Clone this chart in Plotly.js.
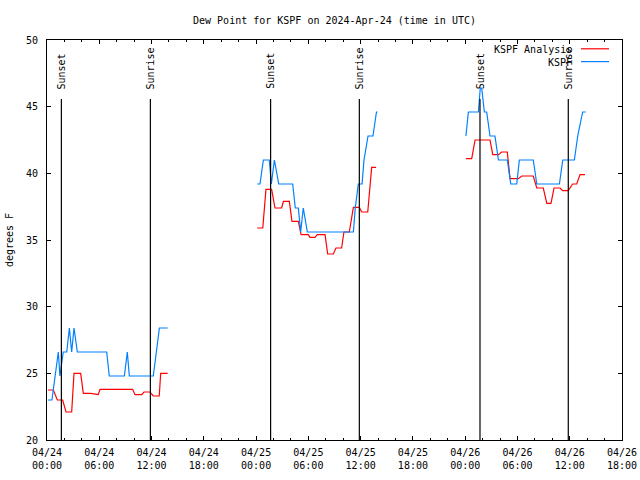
<!DOCTYPE html>
<html>
<head>
<meta charset="utf-8">
<script src="https://cdn.plot.ly/plotly-3.0.1.min.js"></script>
<style>html,body{margin:0;padding:0;background:#fff;}#chart{width:640px;height:480px;}</style>
</head>
<body>
<div id="chart"></div>
<script>
// ---- data ----
const chartTitle = 'Dew Point for KSPF on 2024-Apr-24 (time in UTC)';
const yTitle = 'degrees F';
const seriesNames = ['KSPF Analysis', 'KSPF'];

// KSPF Analysis (red)
const analysisTime = [
  '2024-04-24 00:07','2024-04-24 00:44','2024-04-24 01:11','2024-04-24 01:48','2024-04-24 02:11','2024-04-24 02:50',
  '2024-04-24 03:06','2024-04-24 03:52','2024-04-24 04:10','2024-04-24 05:01','2024-04-24 05:53','2024-04-24 06:05',
  '2024-04-24 09:50','2024-04-24 10:06','2024-04-24 10:52','2024-04-24 11:08','2024-04-24 11:49','2024-04-24 12:12',
  '2024-04-24 12:53','2024-04-24 13:03','2024-04-24 13:51',
  '2024-04-24 19:00',
  '2024-04-25 00:08','2024-04-25 00:46','2024-04-25 01:08','2024-04-25 01:47','2024-04-25 02:10','2024-04-25 02:56',
  '2024-04-25 03:08','2024-04-25 03:49','2024-04-25 04:07','2024-04-25 04:51','2024-04-25 05:10','2024-04-25 06:00',
  '2024-04-25 06:11','2024-04-25 06:46','2024-04-25 07:02','2024-04-25 07:55','2024-04-25 08:13','2024-04-25 08:52',
  '2024-04-25 09:10','2024-04-25 09:49','2024-04-25 10:05','2024-04-25 10:42','2024-04-25 11:10','2024-04-25 11:51',
  '2024-04-25 12:07','2024-04-25 12:49','2024-04-25 13:16','2024-04-25 13:46',
  '2024-04-25 19:00',
  '2024-04-26 00:05','2024-04-26 00:45','2024-04-26 01:08','2024-04-26 02:51','2024-04-26 03:10','2024-04-26 03:49',
  '2024-04-26 04:11','2024-04-26 04:50','2024-04-26 05:09','2024-04-26 06:06','2024-04-26 06:29','2024-04-26 07:49',
  '2024-04-26 08:13','2024-04-26 08:58','2024-04-26 09:22','2024-04-26 09:51','2024-04-26 10:12','2024-04-26 10:53',
  '2024-04-26 11:12','2024-04-26 11:50','2024-04-26 12:20','2024-04-26 12:48','2024-04-26 13:11','2024-04-26 13:45'
];
const analysisDew = [
  23.75,23.75,23.0,23.0,22.1,22.1,
  25.0,25.0,23.5,23.5,23.4,23.8,
  23.8,23.4,23.4,23.6,23.6,23.3,
  23.3,25.0,25.0,
  null,
  35.9,35.9,38.8,38.8,37.4,37.4,
  37.9,37.9,36.4,36.4,35.4,35.4,
  35.2,35.2,35.4,35.4,33.95,33.95,
  34.4,34.4,35.6,35.6,37.45,37.45,
  37.1,37.1,40.45,40.45,
  null,
  41.1,41.1,42.5,42.5,41.4,41.4,
  41.6,41.6,39.6,39.6,39.8,39.8,
  38.9,38.9,37.75,37.75,38.9,38.9,
  38.7,38.7,39.2,39.2,39.9,39.9
];

// KSPF observations (blue)
const obsTime = [
  '2024-04-24 00:07','2024-04-24 00:34','2024-04-24 01:18','2024-04-24 01:29','2024-04-24 01:52','2024-04-24 02:16',
  '2024-04-24 02:34','2024-04-24 02:50','2024-04-24 03:06','2024-04-24 03:29','2024-04-24 06:51','2024-04-24 07:09',
  '2024-04-24 08:53','2024-04-24 09:13','2024-04-24 09:27','2024-04-24 12:12','2024-04-24 12:54','2024-04-24 13:51',
  '2024-04-24 19:00',
  '2024-04-25 00:08','2024-04-25 00:27','2024-04-25 00:50','2024-04-25 01:31','2024-04-25 01:45','2024-04-25 02:06',
  '2024-04-25 02:36','2024-04-25 04:12','2024-04-25 04:30','2024-04-25 04:51','2024-04-25 05:07','2024-04-25 05:25',
  '2024-04-25 05:53','2024-04-25 11:10','2024-04-25 11:23','2024-04-25 11:44','2024-04-25 12:10','2024-04-25 12:23',
  '2024-04-25 12:51','2024-04-25 13:25','2024-04-25 13:49','2024-04-25 13:56',
  '2024-04-25 19:00',
  '2024-04-26 00:05','2024-04-26 00:22','2024-04-26 01:31','2024-04-26 01:44','2024-04-26 01:54','2024-04-26 02:12',
  '2024-04-26 02:28','2024-04-26 02:51','2024-04-26 03:25','2024-04-26 03:49','2024-04-26 04:50','2024-04-26 05:14',
  '2024-04-26 05:55','2024-04-26 06:13','2024-04-26 07:49','2024-04-26 08:13','2024-04-26 10:49','2024-04-26 11:12',
  '2024-04-26 12:32','2024-04-26 12:55','2024-04-26 13:29','2024-04-26 13:50'
];
const obsDew = [
  23.0,23.0,26.6,24.8,26.6,26.6,
  28.4,26.6,28.4,26.6,26.6,24.8,
  24.8,26.6,24.8,24.8,28.4,28.4,
  null,
  39.2,39.2,41.0,41.0,39.2,41.0,
  39.2,39.2,37.4,37.4,35.6,37.4,
  35.6,35.6,37.4,39.2,39.2,41.0,
  42.8,42.8,44.6,44.6,
  null,
  42.8,44.6,44.6,46.4,46.4,44.6,
  44.6,42.8,42.8,41.0,41.0,39.2,
  39.2,41.0,41.0,39.2,39.2,41.0,
  41.0,42.8,44.6,44.6
];

const sunsetTimes = ['2024-04-24 01:39','2024-04-25 01:40','2024-04-26 01:42'];
const sunriseTimes = ['2024-04-24 11:52','2024-04-25 11:51','2024-04-26 11:50'];

const tickTimes = ['2024-04-24 00:00','2024-04-24 06:00','2024-04-24 12:00','2024-04-24 18:00',
                   '2024-04-25 00:00','2024-04-25 06:00','2024-04-25 12:00','2024-04-25 18:00',
                   '2024-04-26 00:00','2024-04-26 06:00','2024-04-26 12:00','2024-04-26 18:00'];
const tickLabels = ['04/24<br>00:00','04/24<br>06:00','04/24<br>12:00','04/24<br>18:00',
                    '04/25<br>00:00','04/25<br>06:00','04/25<br>12:00','04/25<br>18:00',
                    '04/26<br>00:00','04/26<br>06:00','04/26<br>12:00','04/26<br>18:00'];
const yTickVals = [20, 25, 30, 35, 40, 45, 50];

// ---- styles ----
const FONT = 'DejaVu Sans Mono, Liberation Mono, monospace';
const RED = '#ff0000';
const BLUE = '#0080ff';
const colors = [RED, BLUE];

const traces = [
  {x: analysisTime, y: analysisDew, name: seriesNames[0], type: 'scatter', mode: 'lines',
   line: {color: RED, width: 1.2}, connectgaps: false},
  {x: obsTime, y: obsDew, name: seriesNames[1], type: 'scatter', mode: 'lines',
   line: {color: BLUE, width: 1.2}, connectgaps: false}
];

const shapes = [];
const annotations = [];
function addSunLine(t, label) {
  shapes.push({type: 'line', xref: 'x', yref: 'paper', x0: t, x1: t, y0: 0, y1: 0.8525,
               line: {color: '#000', width: 1.2}});
  annotations.push({x: t, xref: 'x', y: 0.872, yref: 'paper', text: label, textangle: -90,
                    showarrow: false, xanchor: 'center', yanchor: 'bottom',
                    font: {family: FONT, size: 10, color: '#000'}});
}
sunsetTimes.forEach(t => addSunLine(t, 'Sunset'));
sunriseTimes.forEach(t => addSunLine(t, 'Sunrise'));

// gnuplot-style key: text right-aligned, sample line on the right
const keyY = [0.976, 0.944];
seriesNames.forEach((n, i) => {
  annotations.push({x: 0.9165, xref: 'paper', y: keyY[i], yref: 'paper', text: n, showarrow: false,
                    xanchor: 'right', yanchor: 'middle', font: {family: FONT, size: 10, color: '#000'}});
  shapes.push({type: 'line', xref: 'paper', yref: 'paper', x0: 0.9287, x1: 0.9774, y0: keyY[i] + 0.002, y1: keyY[i] + 0.002,
               line: {color: colors[i], width: 1.2}});
});

const layout = {
  width: 640, height: 480,
  margin: {l: 47, r: 18, t: 40, b: 40, pad: 0},
  paper_bgcolor: '#fff', plot_bgcolor: '#fff',
  showlegend: false,
  font: {family: FONT, size: 10, color: '#000'},
  title: {text: chartTitle, font: {family: FONT, size: 10, color: '#000'},
          xref: 'paper', x: 0.5, xanchor: 'center', yref: 'container', y: 0.957, yanchor: 'middle'},
  xaxis: {
    type: 'date', range: ['2024-04-24 00:00', '2024-04-26 18:00'],
    tickmode: 'array', tickvals: tickTimes, ticktext: tickLabels,
    ticks: 'inside', ticklen: 4, tickcolor: '#000', tickwidth: 1,
    minor: {tickmode: 'linear', tick0: '2024-04-24 00:00', dtick: 7200000, ticks: 'inside', ticklen: 2, tickcolor: '#000', showgrid: false},
    showline: true, linecolor: '#000', linewidth: 1, mirror: 'ticks',
    showgrid: false, zeroline: false, fixedrange: true,
    ticklabelstandoff: 3,
    tickfont: {family: FONT, size: 10, color: '#000'}
  },
  yaxis: {
    range: [20, 50], tickmode: 'array', tickvals: yTickVals,
    ticks: 'inside', ticklen: 4, tickcolor: '#000', tickwidth: 1,
    showline: true, linecolor: '#000', linewidth: 1, mirror: 'ticks',
    showgrid: false, zeroline: false, fixedrange: true,
    ticklabelstandoff: 6,
    tickfont: {family: FONT, size: 10, color: '#000'},
    title: {text: yTitle, font: {family: FONT, size: 10, color: '#000'}, standoff: 10}
  },
  shapes: shapes,
  annotations: annotations
};

Plotly.newPlot('chart', traces, layout, {staticPlot: true, displayModeBar: false});
</script>
</body>
</html>
